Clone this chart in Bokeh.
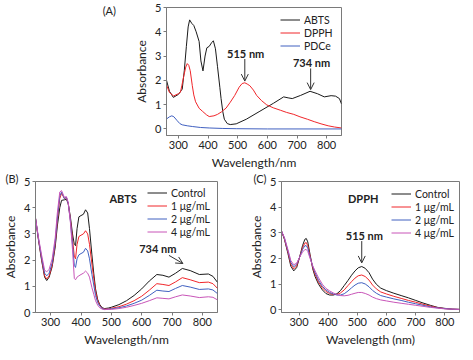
from bokeh.plotting import figure
from bokeh.layouts import column, row
from bokeh.models import Label, Arrow, OpenHead, Legend, LegendItem, Range1d, FixedTicker, Div
from bokeh.embed import file_html
from bokeh.resources import INLINE

# ---------------- data ----------------
# Panel A
a_abts_x = [259, 270, 283, 300, 313, 320, 327, 333, 338, 345, 352, 360, 370, 376, 383, 390, 396, 404, 412, 418,
            425, 432, 440, 444, 450, 455, 465, 475, 495, 529, 575, 621, 655, 670, 684, 712, 744, 769, 792, 815,
            830, 843, 850]
a_abts_y = [2.05, 1.55, 1.3, 1.42, 1.64, 2.4, 3.4, 4.2, 4.49, 4.35, 4.26, 4.0, 3.6, 2.8, 2.39, 3.0, 3.34, 3.4, 3.55, 3.63,
            3.3, 2.56, 1.7, 1.25, 0.7, 0.4, 0.22, 0.18, 0.21, 0.4, 0.73, 1.06, 1.32, 1.28, 1.25, 1.38, 1.55, 1.45, 1.32, 1.37,
            1.35, 1.25, 1.03]
a_dpph_x = [259, 270, 284, 300, 307, 312, 318, 325, 330, 335, 340, 347, 352, 358, 370, 381, 395, 404, 420, 432,
            445, 461, 475, 490, 505, 515, 524, 532, 541, 553, 564, 580, 598, 620, 644, 665, 689, 710, 735, 758,
            781, 805, 826, 850]
a_dpph_y = [1.84, 1.5, 1.36, 1.45, 1.51, 1.8, 2.17, 2.55, 2.69, 2.62, 2.4, 1.78, 1.4, 1.12, 0.85, 0.73, 0.58, 0.51, 0.54, 0.6,
            0.7, 0.86, 1.1, 1.38, 1.72, 1.87, 1.9, 1.85, 1.78, 1.6, 1.38, 1.17, 0.99, 0.87, 0.77, 0.68, 0.6, 0.5, 0.4, 0.3,
            0.21, 0.13, 0.08, 0.04]
a_pdce_x = [259, 270, 278, 285, 296, 305, 313, 330, 347, 375, 404, 450, 495, 600, 850]
a_pdce_y = [0.4, 0.5, 0.54, 0.5, 0.34, 0.22, 0.17, 0.13, 0.1, 0.06, 0.04, 0.02, 0.01, 0.0, 0.0]

# Panel B (ABTS, different concentrations)
b_x = [250, 260, 270, 280, 287, 295, 305, 315, 322, 330, 336, 345, 352, 358, 365, 372, 378, 382, 387, 393,
       400, 408, 415, 422, 428, 436, 442, 448, 455, 462, 470, 478, 490, 500, 525, 550, 575, 600, 625, 650,
       670, 690, 712, 734, 760, 790, 820, 835, 850]
b_control = [3.6, 2.75, 2.0, 1.35, 1.22, 1.35, 1.75, 2.5, 3.3, 4.0, 4.28, 4.3, 4.32, 4.15, 3.65, 3.0, 2.6, 2.55, 3.2, 3.65,
             3.7, 3.75, 3.92, 3.8, 3.2, 2.2, 1.5, 0.9, 0.5, 0.3, 0.18, 0.15, 0.17, 0.2, 0.3, 0.45, 0.65, 0.9, 1.2, 1.45,
             1.42, 1.35, 1.5, 1.68, 1.6, 1.45, 1.47, 1.38, 1.15]
b_1ug = [3.6, 2.78, 2.05, 1.4, 1.28, 1.4, 1.8, 2.6, 3.5, 4.35, 4.55, 4.35, 4.38, 4.15, 3.55, 2.8, 2.15, 2.05, 2.6, 2.9,
         2.95, 3.0, 3.12, 3.0, 2.6, 1.85, 1.3, 0.8, 0.45, 0.27, 0.16, 0.13, 0.14, 0.16, 0.22, 0.32, 0.45, 0.62, 0.85, 1.1,
         1.07, 1.03, 1.17, 1.33, 1.25, 1.14, 1.16, 1.1, 0.92]
b_2ug = [3.6, 2.8, 2.1, 1.5, 1.4, 1.5, 1.9, 2.7, 3.6, 4.45, 4.6, 4.35, 4.4, 4.15, 3.5, 2.6, 1.8, 1.72, 2.05, 2.2,
         2.25, 2.3, 2.45, 2.35, 2.05, 1.45, 1.05, 0.65, 0.38, 0.24, 0.15, 0.12, 0.13, 0.14, 0.18, 0.25, 0.35, 0.47, 0.65, 0.85,
         0.82, 0.8, 0.92, 1.03, 0.97, 0.88, 0.9, 0.86, 0.72]
b_4ug = [3.6, 2.85, 2.2, 1.62, 1.55, 1.65, 2.05, 2.85, 3.8, 4.6, 4.65, 4.4, 4.42, 4.2, 3.45, 2.4, 1.3, 1.25, 1.35, 1.4,
         1.45, 1.5, 1.58, 1.5, 1.35, 0.95, 0.7, 0.45, 0.28, 0.18, 0.13, 0.11, 0.12, 0.12, 0.15, 0.2, 0.27, 0.35, 0.45, 0.56,
         0.54, 0.52, 0.6, 0.67, 0.63, 0.57, 0.6, 0.58, 0.48]

# Panel C (DPPH, different concentrations)
c_x = [240, 250, 262, 272, 282, 292, 302, 312, 320, 325, 330, 338, 347, 355, 367, 380, 392, 405, 418, 430,
       442, 455, 468, 480, 492, 503, 515, 527, 540, 552, 565, 580, 600, 625, 650, 675, 700, 725, 750, 775,
       800, 825, 850]
c_control = [3.07, 2.75, 2.2, 1.7, 1.52, 1.65, 2.05, 2.5, 2.75, 2.78, 2.65, 2.15, 1.6, 1.3, 1.0, 0.78, 0.64, 0.58, 0.58, 0.63,
             0.75, 0.95, 1.15, 1.35, 1.52, 1.64, 1.69, 1.62, 1.45, 1.2, 1.0, 0.85, 0.75, 0.65, 0.56, 0.47, 0.37, 0.27, 0.18, 0.1,
             0.06, 0.03, 0.02]
c_1ug = [3.07, 2.77, 2.25, 1.78, 1.6, 1.72, 2.05, 2.42, 2.6, 2.62, 2.5, 2.1, 1.65, 1.38, 1.08, 0.86, 0.72, 0.64, 0.6, 0.6,
         0.66, 0.78, 0.95, 1.1, 1.24, 1.33, 1.36, 1.3, 1.16, 0.97, 0.82, 0.7, 0.62, 0.53, 0.45, 0.37, 0.3, 0.22, 0.15, 0.09,
         0.05, 0.03, 0.02]
c_2ug = [3.07, 2.8, 2.3, 1.85, 1.68, 1.78, 2.05, 2.35, 2.5, 2.5, 2.4, 2.05, 1.7, 1.45, 1.15, 0.92, 0.78, 0.68, 0.62, 0.58,
         0.58, 0.63, 0.74, 0.86, 0.97, 1.04, 1.06, 1.01, 0.9, 0.76, 0.65, 0.56, 0.5, 0.43, 0.37, 0.3, 0.24, 0.18, 0.12, 0.08,
         0.05, 0.03, 0.02]
c_4ug = [3.07, 2.82, 2.35, 1.92, 1.76, 1.82, 2.05, 2.25, 2.35, 2.35, 2.28, 2.0, 1.72, 1.52, 1.25, 1.0, 0.84, 0.74, 0.66, 0.6,
         0.56, 0.55, 0.57, 0.61, 0.65, 0.68, 0.68, 0.64, 0.58, 0.5, 0.44, 0.39, 0.35, 0.3, 0.26, 0.22, 0.18, 0.14, 0.1, 0.07,
         0.04, 0.03, 0.02]

x_ticks = [300, 400, 500, 600, 700, 800]
y_ticks = [0, 1, 2, 3, 4, 5]
a_names = ["ABTS", "DPPH", "PDCe"]
conc_names = ["Control", "1 \u03bcg/mL", "2 \u03bcg/mL", "4 \u03bcg/mL"]
panel_names = ["(A)", "(B)", "(C)"]

# ---------------- styling ----------------
FONT = "Lato"
TXT = "#222222"
BLACK = "#1a1a1a"
RED = "#f0262a"
BLUE = "#4060c0"
PINK = "#c855b8"
AXIS = "#7a7a7a"


def make_fig(fw, fh, xr, yr, bl, br, bt, bb, xtitle, ptitle=None, toff=0):
    p = figure(frame_width=fw, frame_height=fh,
               x_range=Range1d(*xr), y_range=Range1d(*yr),
               output_backend="svg", toolbar_location=None,
               min_border_left=bl, min_border_right=br,
               min_border_top=bt, min_border_bottom=bb)
    p.grid.visible = False
    p.outline_line_color = AXIS
    p.outline_line_width = 1
    p.background_fill_color = "white"
    p.border_fill_color = "white"
    if ptitle is not None:
        p.title.text = ptitle
        p.title.align = "left"
        p.title.offset = toff
        p.title.text_font = FONT
        p.title.text_font_size = "11px"
        p.title.text_font_style = "normal"
        p.title.text_color = TXT
        p.title.standoff = -6
    for ax in (p.xaxis[0], p.yaxis[0]):
        ax.axis_line_color = AXIS
        ax.major_tick_line_color = AXIS
        ax.major_tick_out = 3
        ax.major_tick_in = 0
        ax.minor_tick_line_color = None
        ax.major_label_text_font = FONT
        ax.major_label_text_font_size = "11px"
        ax.major_label_text_color = TXT
        ax.axis_label_text_font = FONT
        ax.axis_label_text_font_size = "12px"
        ax.axis_label_text_font_style = "normal"
        ax.axis_label_text_color = TXT
        ax.major_label_standoff = 2
        ax.axis_label_standoff = 3
    p.xaxis.ticker = FixedTicker(ticks=x_ticks)
    p.yaxis.ticker = FixedTicker(ticks=y_ticks)
    p.xaxis.axis_label = xtitle
    p.yaxis.axis_label = "Absorbance"
    return p


def add_legend(p, items, x, y_top, fh):
    n = len(items)
    row_h = 13
    lg = Legend(items=items, location=(x, fh - y_top - n * row_h),
                border_line_color=None, background_fill_alpha=0,
                padding=0, margin=0, spacing=0,
                glyph_width=20, glyph_height=row_h, label_height=row_h,
                label_standoff=4, label_text_font=FONT, label_text_font_size="10.5px",
                label_text_color=TXT)
    p.add_layout(lg)


def note(p, text, x, y, x0, y0, x1, y1):
    p.add_layout(Label(x=x, y=y, text=text, text_font=FONT, text_font_size="11px",
                       text_font_style="bold", text_color=TXT,
                       text_align="center", text_baseline="middle"))
    if x0 is not None:
        p.add_layout(Arrow(x_start=x0, y_start=y0, x_end=x1, y_end=y1,
                           line_color="#333333", line_width=1,
                           end=OpenHead(size=7, line_color="#333333", line_width=1)))


# ---------------- Panel A ----------------
FWA, FHA = 175, 128
pA = make_fig(FWA, FHA, (260, 850), (-0.27, 5), 45, 5, 7, 30, "Wavelength/nm")
ra1 = pA.line(a_abts_x, a_abts_y, line_color=BLACK, line_width=1)
ra2 = pA.line(a_dpph_x, a_dpph_y, line_color=RED, line_width=1)
ra3 = pA.line(a_pdce_x, a_pdce_y, line_color=BLUE, line_width=1)
add_legend(pA, [LegendItem(label=a_names[0], renderers=[ra1]),
                LegendItem(label=a_names[1], renderers=[ra2]),
                LegendItem(label=a_names[2], renderers=[ra3])], 114, 6, FHA)
note(pA, "515 nm", 527, 3.1, 524, 2.88, 524, 1.97)
note(pA, "734 nm", 749, 2.74, 746, 2.49, 746, 1.62)

divA = Div(text=panel_names[0], width=111, height=20,
           styles={"text-align": "right", "font-family": FONT, "font-size": "11px",
                   "color": TXT, "line-height": "11px"})

# ---------------- Panel B ----------------
FWB, FHB = 182, 131
pB = make_fig(FWB, FHB, (250, 850), (0, 5), 30, 4, 8, 30, "Wavelength/nm", panel_names[1], -30)
rb = []
for ys, col in zip([b_control, b_1ug, b_2ug, b_4ug], [BLACK, RED, BLUE, PINK]):
    rb.append(pB.line(b_x, ys, line_color=col, line_width=1))
add_legend(pB, [LegendItem(label=n, renderers=[r]) for n, r in zip(conc_names, rb)], 112, 5, FHB)
note(pB, "ABTS", 539, 4.35, None, None, None, None)
note(pB, "734 nm", 653, 2.43, 690, 2.18, 736, 1.87)

# ---------------- Panel C ----------------
FWC, FHC = 178, 131
pC = make_fig(FWC, FHC, (240, 850), (-0.1, 5), 60, 3, 8, 30, "Wavelength (nm)", panel_names[2], -28)
rc = []
for ys, col in zip([c_control, c_1ug, c_2ug, c_4ug], [BLACK, RED, BLUE, PINK]):
    rc.append(pC.line(c_x, ys, line_color=col, line_width=1))
add_legend(pC, [LegendItem(label=n, renderers=[r]) for n, r in zip(conc_names, rc)], 110, 6, FHC)
note(pC, "DPPH", 520, 4.34, None, None, None, None)
note(pC, "515 nm", 524, 2.9, 515, 2.68, 515, 1.83)

layout = column(row(divA, pA), row(pB, pC))

open("out.html", "w").write(file_html(layout, INLINE))
